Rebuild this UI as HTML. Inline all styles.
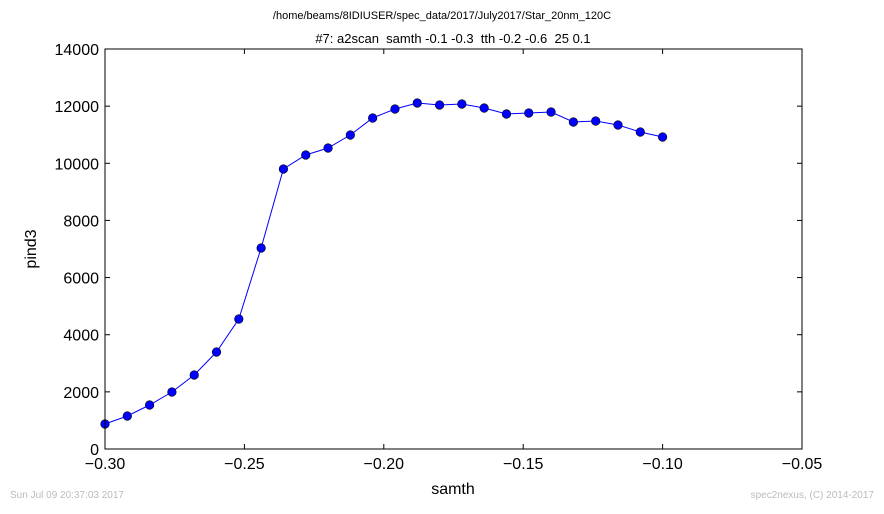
<!DOCTYPE html>
<html><head><meta charset="utf-8"><style>
body{margin:0;background:#fff;width:884px;height:509px;overflow:hidden;font-family:"Liberation Sans","DejaVu Sans",sans-serif}
svg text{font-family:"Liberation Sans","DejaVu Sans",sans-serif}
.pre{white-space:pre}
</style></head><body>
<svg width="884" height="509">
<text x="442" y="19" font-size="11" text-anchor="middle">/home/beams/8IDIUSER/spec_data/2017/July2017/Star_20nm_120C</text>
<text class="pre" xml:space="preserve" x="453" y="43" font-size="13" text-anchor="middle">#7: a2scan  samth -0.1 -0.3  tth -0.2 -0.6  25 0.1</text>
<g id="axes"></g>
<g id="series"></g>
<rect x="105" y="49" width="697" height="400" fill="none" stroke="#000" stroke-width="1"/>
<text x="453" y="494" font-size="16" text-anchor="middle">samth</text>
<text transform="translate(36,249) rotate(-90)" font-size="16" text-anchor="middle">pind3</text>
<text x="10" y="498" font-size="10" fill="#bbb">Sun Jul 09 20:37:03 2017</text>
<text x="874" y="498" font-size="10" fill="#bbb" text-anchor="end">spec2nexus, (C) 2014-2017</text>
</svg>
<script>
const xTicks=[-0.30,-0.25,-0.20,-0.15,-0.10,-0.05];
const xTickLabels=["\u22120.30","\u22120.25","\u22120.20","\u22120.15","\u22120.10","\u22120.05"];
const yTicks=[0,2000,4000,6000,8000,10000,12000,14000];
const yTickLabels=["0","2000","4000","6000","8000","10000","12000","14000"];
const samth=[-0.300,-0.292,-0.284,-0.276,-0.268,-0.260,-0.252,-0.244,-0.236,-0.228,-0.220,-0.212,-0.204,-0.196,-0.188,-0.180,-0.172,-0.164,-0.156,-0.148,-0.140,-0.132,-0.124,-0.116,-0.108,-0.100];
const pind3=[875,1155,1540,1995,2590,3395,4550,7035,9800,10290,10535,10990,11585,11900,12110,12040,12075,11935,11725,11760,11795,11445,11480,11340,11095,10920];
const X0=105,X1=802,Y0=449,Y1=49;
const xs=v=>X0+(v-(-0.30))/(0.25)*(X1-X0);
const ys=v=>Y0-(v/14000)*(Y0-Y1);
const NS="http://www.w3.org/2000/svg";
const ax=document.getElementById('axes'),se=document.getElementById('series');
function mk(tag,attrs,parent){const e=document.createElementNS(NS,tag);for(const k in attrs)e.setAttribute(k,attrs[k]);parent.appendChild(e);return e;}
xTicks.forEach((v,i)=>{const x=xs(v);
 const t=mk('line',{x1:x,x2:x,y1:Y0,y2:Y0-5,stroke:'#000'},ax);
 
 
 const t2=mk('line',{x1:x,x2:x,y1:Y1,y2:Y1+5,stroke:'#000'},ax);
 
 
 const l=mk('text',{x:x,y:Y0+20,'font-size':16,'text-anchor':'middle'},ax);l.textContent=xTickLabels[i];
 
 
});
yTicks.forEach((v,i)=>{const y=ys(v);
 const t=mk('line',{x1:X0,x2:X0+5,y1:y,y2:y,stroke:'#000'},ax);
 
 
 const t2=mk('line',{x1:X1,x2:X1-5,y1:y,y2:y,stroke:'#000'},ax);
 
 
 const l=mk('text',{x:X0-6,y:y+6,'font-size':16,'text-anchor':'end'},ax);l.textContent=yTickLabels[i];
 
 
});
const pts=samth.map((v,i)=>xs(v).toFixed(1)+','+ys(pind3[i]).toFixed(1)).join(' ');
const pl=mk('polyline',{points:pts,fill:'none',stroke:'#0000ff','stroke-width':1},se);


samth.forEach((v,i)=>{const c=mk('circle',{cx:xs(v),cy:ys(pind3[i]),r:4.3,fill:'#0000ff',stroke:'#000','stroke-width':0.6},se);
 
 
});
</script>
</body></html>
